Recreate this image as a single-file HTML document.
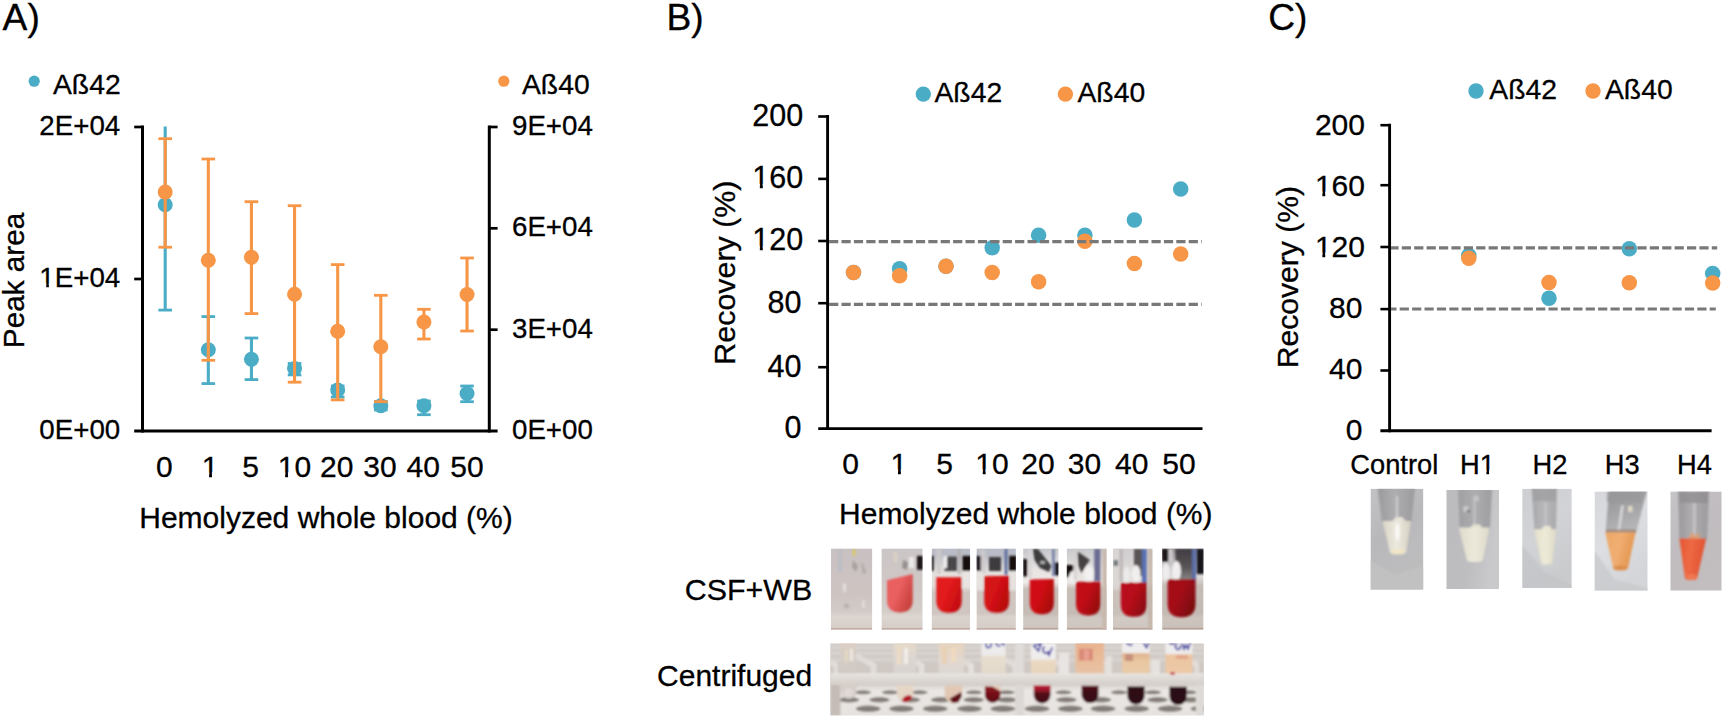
<!DOCTYPE html>
<html><head><meta charset="utf-8"><title>Figure</title>
<style>html,body{margin:0;padding:0;background:#fff;}svg{display:block}text{font-family:"Liberation Sans",sans-serif;fill:#000;stroke:#000;stroke-width:0.3px}</style>
</head><body>
<svg width="1725" height="719" viewBox="0 0 1725 719">
<rect width="1725" height="719" fill="#fff"/>
<defs><filter id="b1" x="-10%" y="-10%" width="120%" height="120%"><feGaussianBlur stdDeviation="1.05"/></filter><filter id="b2" x="-10%" y="-10%" width="120%" height="120%"><feGaussianBlur stdDeviation="1.6"/></filter><filter id="b05" x="-10%" y="-10%" width="120%" height="120%"><feGaussianBlur stdDeviation="0.5"/></filter><clipPath id="c1"><rect x="831.0" y="548.4" width="41.3" height="81.3"/></clipPath><linearGradient id="g1" x1="0" y1="0" x2="0" y2="1"><stop offset="0" stop-color="#c9c0c2"/><stop offset="0.55" stop-color="#cdc4c2"/><stop offset="0.78" stop-color="#d3cbc7"/><stop offset="0.84" stop-color="#dcd5d0"/><stop offset="0.975" stop-color="#d6cdc8"/><stop offset="0.992" stop-color="#b39a8e"/><stop offset="1" stop-color="#a5877a"/></linearGradient><clipPath id="c2"><rect x="881.4" y="548.4" width="41.3" height="81.3"/></clipPath><linearGradient id="g2" x1="0" y1="0" x2="0" y2="1"><stop offset="0" stop-color="#cbc5c6"/><stop offset="0.5" stop-color="#d0c8c5"/><stop offset="0.78" stop-color="#d5cdc8"/><stop offset="0.84" stop-color="#ddd6d1"/><stop offset="0.975" stop-color="#d6cdc8"/><stop offset="0.992" stop-color="#b39a8e"/><stop offset="1" stop-color="#a5877a"/></linearGradient><linearGradient id="g3" x1="0" y1="0" x2="1" y2="0.6"><stop offset="0" stop-color="#ea5f60"/><stop offset="0.5" stop-color="#ea5f60"/><stop offset="1" stop-color="#c8423e"/></linearGradient><clipPath id="c3"><rect x="931.6" y="548.4" width="38.5" height="81.3"/></clipPath><linearGradient id="g4" x1="0" y1="0" x2="0" y2="1"><stop offset="0" stop-color="#b9bcc6"/><stop offset="0.09" stop-color="#b9bcc6"/><stop offset="0.28" stop-color="#e6e1de"/><stop offset="0.45" stop-color="#e2dcd8"/><stop offset="0.55" stop-color="#cfc6c1"/><stop offset="0.8" stop-color="#cfc6c1"/><stop offset="0.84" stop-color="#dad2cc"/><stop offset="0.975" stop-color="#d6cdc8"/><stop offset="0.992" stop-color="#b39a8e"/><stop offset="1" stop-color="#a5877a"/></linearGradient><linearGradient id="g5" x1="0" y1="0" x2="1" y2="0.6"><stop offset="0" stop-color="#e21a1c"/><stop offset="0.5" stop-color="#e21a1c"/><stop offset="1" stop-color="#c40c10"/></linearGradient><clipPath id="c4"><rect x="976.4" y="548.4" width="39.5" height="81.3"/></clipPath><linearGradient id="g6" x1="0" y1="0" x2="0" y2="1"><stop offset="0" stop-color="#b9bcc6"/><stop offset="0.09" stop-color="#b9bcc6"/><stop offset="0.28" stop-color="#e6e1de"/><stop offset="0.45" stop-color="#e2dcd8"/><stop offset="0.55" stop-color="#cfc6c1"/><stop offset="0.8" stop-color="#cfc6c1"/><stop offset="0.84" stop-color="#dad2cc"/><stop offset="0.975" stop-color="#d6cdc8"/><stop offset="0.992" stop-color="#b39a8e"/><stop offset="1" stop-color="#a5877a"/></linearGradient><linearGradient id="g7" x1="0" y1="0" x2="1" y2="0.6"><stop offset="0" stop-color="#d41216"/><stop offset="0.5" stop-color="#d41216"/><stop offset="1" stop-color="#b8080c"/></linearGradient><clipPath id="c5"><rect x="1023.1" y="548.4" width="35.5" height="81.3"/></clipPath><linearGradient id="g8" x1="0" y1="0" x2="0" y2="1"><stop offset="0" stop-color="#c4c6cc"/><stop offset="0.25" stop-color="#e8e4e2"/><stop offset="0.42" stop-color="#eeeae8"/><stop offset="0.5" stop-color="#c8beb8"/><stop offset="0.8" stop-color="#c6bcb6"/><stop offset="0.86" stop-color="#d0c8c2"/><stop offset="0.97" stop-color="#cfc6c0"/><stop offset="1" stop-color="#a08878"/></linearGradient><linearGradient id="g9" x1="0" y1="0" x2="1" y2="0.6"><stop offset="0" stop-color="#d00a12"/><stop offset="0.5" stop-color="#d00a12"/><stop offset="1" stop-color="#a80810"/></linearGradient><clipPath id="c6"><rect x="1066.7" y="548.4" width="40.0" height="81.3"/></clipPath><linearGradient id="g10" x1="0" y1="0" x2="0" y2="1"><stop offset="0" stop-color="#c6c8cc"/><stop offset="0.25" stop-color="#e4e0de"/><stop offset="0.42" stop-color="#eae6e4"/><stop offset="0.5" stop-color="#c8beb8"/><stop offset="0.8" stop-color="#c6bcb6"/><stop offset="0.86" stop-color="#d0c8c2"/><stop offset="0.97" stop-color="#cfc6c0"/><stop offset="1" stop-color="#a08878"/></linearGradient><linearGradient id="g11" x1="0" y1="0" x2="1" y2="0.6"><stop offset="0" stop-color="#c00a14"/><stop offset="0.5" stop-color="#c00a14"/><stop offset="1" stop-color="#96080f"/></linearGradient><clipPath id="c7"><rect x="1112.9" y="548.4" width="39.7" height="81.3"/></clipPath><linearGradient id="g12" x1="0" y1="0" x2="0" y2="1"><stop offset="0" stop-color="#cfcdd0"/><stop offset="0.25" stop-color="#dcd8d6"/><stop offset="0.42" stop-color="#e2dedc"/><stop offset="0.5" stop-color="#cbc2bc"/><stop offset="0.8" stop-color="#c9c0ba"/><stop offset="0.86" stop-color="#d2cac4"/><stop offset="0.97" stop-color="#cfc6c0"/><stop offset="1" stop-color="#a08878"/></linearGradient><linearGradient id="g13" x1="0" y1="0" x2="1" y2="0.6"><stop offset="0" stop-color="#b80e1a"/><stop offset="0.5" stop-color="#b80e1a"/><stop offset="1" stop-color="#8e0a14"/></linearGradient><clipPath id="c8"><rect x="1162.1" y="548.4" width="41.5" height="81.3"/></clipPath><linearGradient id="g14" x1="0" y1="0" x2="0" y2="1"><stop offset="0" stop-color="#8a868a"/><stop offset="0.2" stop-color="#c8c4c6"/><stop offset="0.36" stop-color="#dedad8"/><stop offset="0.46" stop-color="#c6bcb6"/><stop offset="0.8" stop-color="#c4bab4"/><stop offset="0.86" stop-color="#cdc4be"/><stop offset="0.97" stop-color="#cac0ba"/><stop offset="1" stop-color="#a08878"/></linearGradient><linearGradient id="g15" x1="0" y1="0" x2="0" y2="1"><stop offset="0" stop-color="#403c40"/><stop offset="0.6" stop-color="#5a5558"/><stop offset="1" stop-color="#8a8486"/></linearGradient><linearGradient id="g16" x1="0" y1="0" x2="1" y2="0.6"><stop offset="0" stop-color="#a40c16"/><stop offset="0.5" stop-color="#a40c16"/><stop offset="1" stop-color="#7c0810"/></linearGradient><clipPath id="c9"><rect x="830.2" y="643.3" width="373.7" height="72.2"/></clipPath><linearGradient id="g17" x1="0" y1="0" x2="0" y2="1"><stop offset="0" stop-color="#d3cdc9"/><stop offset="0.4" stop-color="#cec7c2"/><stop offset="0.42" stop-color="#d6d0cb"/><stop offset="0.58" stop-color="#d2cbc6"/><stop offset="0.6" stop-color="#e4e1de"/><stop offset="1" stop-color="#e2dfdc"/></linearGradient><linearGradient id="g18" x1="0" y1="0" x2="0" y2="1"><stop offset="0" stop-color="#dccfc0"/><stop offset="0.35" stop-color="#d6cec8"/><stop offset="1" stop-color="#cfc8c4"/></linearGradient><linearGradient id="g19" x1="0" y1="0" x2="0" y2="1"><stop offset="0" stop-color="#e6d9c8"/><stop offset="0.5" stop-color="#dcd6d2"/><stop offset="1" stop-color="#d8d3d0"/></linearGradient><linearGradient id="g20" x1="0" y1="0" x2="0" y2="1"><stop offset="0" stop-color="#e6d3bc"/><stop offset="0.55" stop-color="#e2d8d0"/><stop offset="1" stop-color="#dcd7d3"/></linearGradient><linearGradient id="g21" x1="0" y1="0" x2="0" y2="1"><stop offset="0" stop-color="#efeded"/><stop offset="0.38" stop-color="#eceaea"/><stop offset="0.45" stop-color="#e8decf"/><stop offset="1" stop-color="#e2d8ca"/></linearGradient><linearGradient id="g22" x1="0" y1="0" x2="0" y2="1"><stop offset="0" stop-color="#f1efef"/><stop offset="0.5" stop-color="#efeded"/><stop offset="0.58" stop-color="#ead9c2"/><stop offset="1" stop-color="#e6d4bc"/></linearGradient><linearGradient id="g23" x1="0" y1="0" x2="0" y2="1"><stop offset="0" stop-color="#e9b48e"/><stop offset="0.6" stop-color="#e9bd9c"/><stop offset="1" stop-color="#e6c2a6"/></linearGradient><linearGradient id="g24" x1="0" y1="0" x2="0" y2="1"><stop offset="0" stop-color="#efeded"/><stop offset="0.3" stop-color="#efeded"/><stop offset="0.36" stop-color="#e0b48e"/><stop offset="0.6" stop-color="#e9c8a2"/><stop offset="1" stop-color="#e8cba8"/></linearGradient><linearGradient id="g25" x1="0" y1="0" x2="0" y2="1"><stop offset="0" stop-color="#f0eeee"/><stop offset="0.33" stop-color="#efeded"/><stop offset="0.4" stop-color="#ecc4a0"/><stop offset="1" stop-color="#eccaa8"/></linearGradient><linearGradient id="g26" x1="0" y1="0" x2="0" y2="1"><stop offset="0" stop-color="#e9e6e3"/><stop offset="0.35" stop-color="#e0dbd7"/><stop offset="1" stop-color="#d4cdc8"/></linearGradient><linearGradient id="g27" x1="0" y1="0" x2="0" y2="1"><stop offset="0" stop-color="#d9d4d0"/><stop offset="0.15" stop-color="#e9e6e3"/><stop offset="1" stop-color="#e6e3e0"/></linearGradient><linearGradient id="g28" x1="0" y1="0" x2="0" y2="1"><stop offset="0" stop-color="#8e1622"/><stop offset="0.5" stop-color="#741018"/><stop offset="1" stop-color="#5a0c14"/></linearGradient><linearGradient id="g29" x1="0" y1="0" x2="0" y2="1"><stop offset="0" stop-color="#b81a34"/><stop offset="0.25" stop-color="#a0182c"/><stop offset="0.45" stop-color="#521018"/><stop offset="1" stop-color="#43101a"/></linearGradient><linearGradient id="g30" x1="0" y1="0" x2="0" y2="1"><stop offset="0" stop-color="#5a1420"/><stop offset="0.3" stop-color="#3e0c14"/><stop offset="1" stop-color="#380c14"/></linearGradient><linearGradient id="g31" x1="0" y1="0" x2="0.4" y2="1"><stop offset="0" stop-color="#c2c2c5"/><stop offset="0.5" stop-color="#b8b7ba"/><stop offset="1" stop-color="#bebdbe"/></linearGradient><linearGradient id="g32" x1="0" y1="0" x2="1" y2="0"><stop offset="0" stop-color="#9a999c"/><stop offset="0.45" stop-color="#aeadb0"/><stop offset="1" stop-color="#9c9b9e"/></linearGradient><linearGradient id="g33" x1="0" y1="0" x2="1" y2="0"><stop offset="0" stop-color="#d9d4c6"/><stop offset="0.5" stop-color="#ece9df"/><stop offset="1" stop-color="#d7d1c2"/></linearGradient><clipPath id="c10"><rect x="1370.5" y="488.7" width="52.9" height="101.1"/></clipPath><linearGradient id="g34" x1="0" y1="0" x2="1" y2="0.3"><stop offset="0" stop-color="#bcbcbf"/><stop offset="0.6" stop-color="#bebec1"/><stop offset="1" stop-color="#c9c9cc"/></linearGradient><linearGradient id="g35" x1="0" y1="0" x2="1" y2="0"><stop offset="0" stop-color="#a0a0a3"/><stop offset="0.5" stop-color="#adadb0"/><stop offset="1" stop-color="#9e9ea1"/></linearGradient><linearGradient id="g36" x1="0" y1="0" x2="1" y2="0"><stop offset="0" stop-color="#dedacb"/><stop offset="0.5" stop-color="#ece9db"/><stop offset="1" stop-color="#dedacb"/></linearGradient><clipPath id="c11"><rect x="1446.3" y="490" width="52.7" height="99.0"/></clipPath><linearGradient id="g37" x1="0" y1="0" x2="0.5" y2="1"><stop offset="0" stop-color="#cdced1"/><stop offset="0.5" stop-color="#d2d3d6"/><stop offset="1" stop-color="#cacbcd"/></linearGradient><linearGradient id="g38" x1="0" y1="0" x2="1" y2="0"><stop offset="0" stop-color="#a8a8ab"/><stop offset="0.5" stop-color="#b8b8bb"/><stop offset="1" stop-color="#aaaaad"/></linearGradient><linearGradient id="g39" x1="0" y1="0" x2="1" y2="0"><stop offset="0" stop-color="#e3dfcb"/><stop offset="0.5" stop-color="#edead8"/><stop offset="1" stop-color="#dfdbc6"/></linearGradient><clipPath id="c12"><rect x="1522.2" y="488.7" width="49.6" height="99.3"/></clipPath><linearGradient id="g40" x1="0" y1="0" x2="0.5" y2="1"><stop offset="0" stop-color="#d6d7da"/><stop offset="0.5" stop-color="#dddee1"/><stop offset="1" stop-color="#d4d5d8"/></linearGradient><linearGradient id="g41" x1="0" y1="0" x2="0.3" y2="1"><stop offset="0" stop-color="#929295"/><stop offset="0.6" stop-color="#a6a6a9"/><stop offset="1" stop-color="#b6b6b9"/></linearGradient><linearGradient id="g42" x1="0" y1="0" x2="1" y2="0.3"><stop offset="0" stop-color="#eca765"/><stop offset="0.5" stop-color="#f1ae72"/><stop offset="1" stop-color="#e39650"/></linearGradient><clipPath id="c13"><rect x="1594.5" y="491.4" width="53.2" height="99.3"/></clipPath><linearGradient id="g43" x1="0" y1="0" x2="0.5" y2="1"><stop offset="0" stop-color="#c6c4c7"/><stop offset="0.5" stop-color="#c0bcbf"/><stop offset="1" stop-color="#c2bebf"/></linearGradient><linearGradient id="g44" x1="0" y1="0" x2="1" y2="0"><stop offset="0" stop-color="#9a989a"/><stop offset="0.45" stop-color="#b0aeb0"/><stop offset="1" stop-color="#9c9a9c"/></linearGradient><linearGradient id="g45" x1="0" y1="0" x2="1" y2="0.2"><stop offset="0" stop-color="#e4532f"/><stop offset="0.45" stop-color="#ee6a45"/><stop offset="1" stop-color="#e05030"/></linearGradient><clipPath id="c14"><rect x="1670.3" y="491.4" width="51.4" height="99.3"/></clipPath></defs>
<g clip-path="url(#c1)">
<rect x="831.0" y="548.4" width="41.3" height="81.3" fill="url(#g1)" />
<g filter="url(#b1)">
<rect x="838.0" y="549.0" width="4.0" height="23.0" fill="#b4bcc8" opacity="0.6"/>
<rect x="852.5" y="549.0" width="3.0" height="7.0" fill="#d8c860" opacity="0.9"/>
<path d="M853,560 L858,566 L856,572 L852,567 Z" fill="#9a9290" opacity="0.7"/>
<path d="M861,560 L866,572 L863,574 Z" fill="#a09894" opacity="0.7"/>
<rect x="843.0" y="583.0" width="3.0" height="9.0" fill="#e8e4e2" opacity="0.8"/>
<ellipse cx="846.5" cy="606" rx="3" ry="2.5" fill="#b0a8a6" opacity="0.7"/>
<rect x="862.0" y="600.0" width="3.0" height="8.0" fill="#e2deda" opacity="0.8"/>
</g></g>
<g clip-path="url(#c2)">
<rect x="881.4" y="548.4" width="41.3" height="81.3" fill="url(#g2)" />
<g filter="url(#b1)">
<rect x="917.0" y="555.9" width="6.0" height="13.9" fill="#1a1416" />
<rect x="909.0" y="557.0" width="5.0" height="11.0" fill="#eceae8" />
<path d="M903,560 L908,562 L907,570 L902,568 Z" fill="#8a8482" opacity="0.8"/>
<rect x="894.0" y="552.0" width="3.0" height="10.0" fill="#e0d6c0" opacity="0.8"/>
<path d="M887.0,580.3 L912.7,574.0 L912.7,600.1 Q912.7,612.4 900.4,612.4 L899.3,612.4 Q887.0,612.4 887.0,600.1 Z" fill="url(#g3)"/>
</g></g>
<g clip-path="url(#c3)">
<rect x="931.6" y="548.4" width="38.5" height="81.3" fill="url(#g4)" />
<g filter="url(#b1)">
<rect x="931.6" y="555.9" width="2.2" height="15.1" fill="#141012" />
<rect x="962.3" y="555.9" width="8.8" height="15.1" fill="#120e10" />
<rect x="944.5" y="556.5" width="12.5" height="14.5" fill="#4a4648" />
<rect x="943.5" y="556.0" width="3.5" height="12.0" fill="#f0eeee" />
<rect x="936.5" y="549.0" width="4.5" height="25.0" fill="#cfcacb" opacity="0.8"/>
<rect x="957.5" y="549.0" width="3.5" height="25.0" fill="#b4aeb0" opacity="0.8"/>
<rect x="962.5" y="571.5" width="8.5" height="16.5" fill="#e8e4e2" />
<path d="M936.3,577.2 L961.7,577.2 L961.7,600.5 Q961.7,612.7 949.5,612.7 L948.5,612.7 Q936.3,612.7 936.3,600.5 Z" fill="url(#g5)"/>
</g></g>
<g clip-path="url(#c4)">
<rect x="976.4" y="548.4" width="39.5" height="81.3" fill="url(#g6)" />
<g filter="url(#b1)">
<rect x="976.4" y="555.9" width="4.8" height="15.1" fill="#141012" />
<rect x="1009.1" y="555.9" width="7.8" height="15.1" fill="#120e10" />
<rect x="989.0" y="557.0" width="12.0" height="14.0" fill="#3c3a3c" />
<rect x="980.5" y="549.0" width="5.0" height="25.0" fill="#cfcacb" opacity="0.85"/>
<rect x="1004.6" y="549.0" width="2.8" height="26.0" fill="#5a6a9c" />
<rect x="1010.0" y="571.5" width="6.5" height="18.5" fill="#e6e2e0" />
<rect x="976.0" y="571.5" width="7.0" height="18.5" fill="#e6e2e0" />
<path d="M984.2,576.2 L1009.2,575.8 L1009.2,600.7 Q1009.2,612.7 997.2,612.7 L996.2,612.7 Q984.2,612.7 984.2,600.7 Z" fill="url(#g7)"/>
</g></g>
<g clip-path="url(#c5)">
<rect x="1023.1" y="548.4" width="35.5" height="81.3" fill="url(#g8)" />
<g filter="url(#b1)">
<rect x="1023.0" y="559.0" width="4.2" height="17.5" fill="#140f10" />
<rect x="1054.8" y="562.5" width="4.2" height="13.0" fill="#161012" />
<path d="M1032.8,549 L1038,549 L1051.5,566 L1049,572 L1040,568 L1034.5,560 Z" fill="#3e3c3e"/>
<ellipse cx="1042.6" cy="562.4" rx="2.6" ry="1.6" fill="#b8b4b4"/>
<rect x="1052.2" y="549.0" width="2.4" height="27.0" fill="#6a78a0" />
<rect x="1028.5" y="549.0" width="3.5" height="29.0" fill="#d8d4d4" opacity="0.8"/>
<path d="M1029.8,579.4 L1053.9,579.0 L1053.9,602.6 Q1053.9,614.2 1042.3,614.2 L1041.4,614.2 Q1029.8,614.2 1029.8,602.6 Z" fill="url(#g9)"/>
</g></g>
<g clip-path="url(#c6)">
<rect x="1066.7" y="548.4" width="40.0" height="81.3" fill="url(#g10)" />
<g filter="url(#b1)">
<path d="M1066,565 L1073.5,565 L1073.5,570 L1068,577.5 L1066,577.5 Z" fill="#140f10"/>
<path d="M1077.5,551.5 L1090,560 L1087,564 L1081.5,573 L1078.5,566 Z" fill="#444042"/>
<rect x="1094.2" y="549.0" width="6.2" height="32.0" fill="#6c6c92" />
<rect x="1102.5" y="549.0" width="4.5" height="81.0" fill="#c9b8ac" />
<ellipse cx="1089" cy="574" rx="5" ry="8" fill="#f2f0f0"/>
<ellipse cx="1073" cy="577" rx="4" ry="6" fill="#f0eeee"/>
<rect x="1073.5" y="549.0" width="3.5" height="31.0" fill="#d4d0d0" opacity="0.8"/>
<path d="M1076.0,581.8 L1100.5,581.4 L1100.5,603.6 Q1100.5,615.4 1088.7,615.4 L1087.8,615.4 Q1076.0,615.4 1076.0,603.6 Z" fill="url(#g11)"/>
</g></g>
<g clip-path="url(#c7)">
<rect x="1112.9" y="548.4" width="39.7" height="81.3" fill="url(#g12)" />
<g filter="url(#b1)">
<rect x="1134.0" y="549.0" width="8.0" height="27.0" fill="#5c5457" />
<rect x="1142.0" y="549.0" width="4.8" height="36.0" fill="#5a72b2" />
<ellipse cx="1136" cy="574" rx="4.5" ry="9" fill="#f0eeee"/>
<ellipse cx="1126.5" cy="575" rx="3.5" ry="8" fill="#eceaea"/>
<rect x="1113.0" y="549.0" width="6.0" height="41.0" fill="#dad6d4" opacity="0.9"/>
<rect x="1113.5" y="560.0" width="4.5" height="6.0" fill="#5a6068" opacity="0.8"/>
<rect x="1119.5" y="549.0" width="3.5" height="33.0" fill="#b9b2b2" opacity="0.8"/>
<rect x="1148.0" y="549.0" width="5.0" height="81.0" fill="#c4b4a8" opacity="0.8"/>
<path d="M1120.8,583.0 L1146.7,582.6 L1146.7,604.3 Q1146.7,616.7 1134.3,616.7 L1133.2,616.7 Q1120.8,616.7 1120.8,604.3 Z" fill="url(#g13)"/>
</g></g>
<g clip-path="url(#c8)">
<rect x="1162.1" y="548.4" width="41.5" height="81.3" fill="url(#g14)" />
<g filter="url(#b1)">
<rect x="1162.0" y="549.0" width="6.6" height="12.5" fill="#1a1618" />
<rect x="1175.5" y="549.0" width="16.9" height="31.0" fill="url(#g15)" />
<rect x="1192.0" y="549.0" width="4.0" height="32.0" fill="#5c6ea6" />
<rect x="1196.7" y="549.0" width="7.3" height="25.0" fill="#18161a" />
<ellipse cx="1166" cy="572" rx="4" ry="9" fill="#eeecec"/>
<ellipse cx="1176.5" cy="571" rx="4.5" ry="10" fill="#f0eeee"/>
<rect x="1168.5" y="549.0" width="4.0" height="13.0" fill="#d0ccd0" />
<path d="M1167.6,579.6 L1195.5,579.0 L1195.5,603.8 Q1195.5,617.2 1182.1,617.2 L1181.0,617.2 Q1167.6,617.2 1167.6,603.8 Z" fill="url(#g16)"/>
</g></g>
<g clip-path="url(#c9)">
<rect x="830.2" y="643.3" width="373.7" height="72.2" fill="url(#g17)" />
<g filter="url(#b1)">
<path d="M838,675 L838,663 L813,650 L813,655 L833.5,667 L833.5,675 Z" fill="#e2ddd9"/>
<path d="M875,675 L875,663 L850,650 L850,655 L870.5,667 L870.5,675 Z" fill="#e2ddd9"/>
<path d="M923,675 L923,663 L898,650 L898,655 L918.5,667 L918.5,675 Z" fill="#e2ddd9"/>
<path d="M972.5,675 L972.5,663 L947.5,650 L947.5,655 L968.0,667 L968.0,675 Z" fill="#e2ddd9"/>
<path d="M1017,675 L1017,663 L992,650 L992,655 L1012.5,667 L1012.5,675 Z" fill="#e2ddd9"/>
<path d="M1063,675 L1063,663 L1038,650 L1038,655 L1058.5,667 L1058.5,675 Z" fill="#e2ddd9"/>
<path d="M1109,675 L1109,663 L1084,650 L1084,655 L1104.5,667 L1104.5,675 Z" fill="#e2ddd9"/>
<path d="M1155,675 L1155,663 L1130,650 L1130,655 L1150.5,667 L1150.5,675 Z" fill="#e2ddd9"/>
<path d="M1199,675 L1199,663 L1174,650 L1174,655 L1194.5,667 L1194.5,675 Z" fill="#e2ddd9"/>
<rect x="830.2" y="646.5" width="373.7" height="2.2" fill="#ddd8d4" opacity="0.8"/>
<rect x="830.2" y="652.0" width="373.7" height="2.4" fill="#ddd8d4" opacity="0.75"/>
<rect x="830.2" y="658.5" width="373.7" height="2.6" fill="#ddd8d4" opacity="0.7"/>
<rect x="840.6" y="643.0" width="15.8" height="31.0" fill="url(#g18)" />
<rect x="845.0" y="650.0" width="2.5" height="12.0" fill="#e8dcc0" />
<rect x="850.0" y="649.0" width="3.0" height="12.0" fill="#f0e8e0" />
<rect x="893.6" y="643.0" width="22.4" height="31.0" fill="url(#g19)" />
<rect x="897.0" y="646.0" width="4.0" height="19.0" fill="#ecdcc4" />
<rect x="904.0" y="648.0" width="4.0" height="16.0" fill="#f2ece6" />
<rect x="938.6" y="643.0" width="25.4" height="31.0" fill="url(#g20)" />
<rect x="942.0" y="647.0" width="5.0" height="17.0" fill="#e8d0b4" />
<rect x="951.0" y="647.0" width="5.0" height="15.0" fill="#efd9c0" />
<rect x="981.4" y="643.0" width="24.2" height="31.0" fill="url(#g21)" />
<rect x="1030.9" y="643.0" width="24.8" height="31.0" fill="url(#g22)" />
<rect x="1075.4" y="643.0" width="28.6" height="31.0" fill="url(#g23)" />
<rect x="1078.8" y="648.7" width="14.0" height="11.8" fill="#d98a78" />
<rect x="1084.0" y="650.0" width="5.0" height="11.0" fill="#e8a090" />
<rect x="1122.0" y="643.0" width="27.7" height="31.0" fill="url(#g24)" />
<rect x="1125.0" y="654.0" width="8.0" height="7.0" fill="#c8907a" />
<rect x="1165.4" y="643.0" width="27.1" height="31.0" fill="url(#g25)" />
<rect x="1176.0" y="655.0" width="12.0" height="4.0" fill="#e0a088" opacity="0.8"/>
<path d="M986,644 q0,4 3,3.5 q3,-0.5 2,-4 M996,643.5 q1,3 4,2 M1002,643.5 l2,1.5" fill="none" stroke="#2c2c9c" stroke-width="1.6" stroke-linecap="round"/>
<path d="M1033.5,645.5 l5,5.5 l2.5,-7 l-7,1.5 M1044,647 q-2.5,4 1,6 q2,1 3,-1 l1,3 l3,-7" fill="none" stroke="#2c2c9c" stroke-width="1.6" stroke-linecap="round"/>
<path d="M1127,643.5 q2,2 5,1 M1144,643.5 l2.5,4 l2,-4" fill="none" stroke="#2c2c9c" stroke-width="1.6" stroke-linecap="round"/>
<path d="M1170,643.5 q2.5,1 4,0 M1176.5,644 q-2.5,4 1,5.5 q3,0.5 3,-4 M1182.5,644 l1.5,5 l2,-4 l2,4 l2,-6" fill="none" stroke="#2c2c9c" stroke-width="1.6" stroke-linecap="round"/>
<rect x="1015.0" y="643.0" width="9.0" height="73.0" fill="#e0dcd9" />
<rect x="1059.0" y="652.6" width="10.0" height="22.4" fill="#e8e4e2" />
<rect x="920.0" y="664.0" width="4.5" height="11.0" fill="#e4e0dc" />
<rect x="969.5" y="664.0" width="4.3" height="11.0" fill="#e6e2de" />
<rect x="872.0" y="664.0" width="4.5" height="11.0" fill="#e2ddd9" />
<rect x="1152.0" y="660.0" width="8.0" height="15.0" fill="#e6e2df" />
<rect x="1106.0" y="656.0" width="6.0" height="19.0" fill="#e4e0dc" />
<rect x="830.2" y="673.4" width="373.7" height="12.2" fill="url(#g26)" />
<rect x="830.2" y="685.6" width="373.7" height="30.4" fill="url(#g27)" />
<ellipse cx="868.2" cy="708.8" rx="12.3" ry="3.2" fill="#857e78"/>
<ellipse cx="901.5" cy="708.8" rx="12.3" ry="3.2" fill="#857e78"/>
<ellipse cx="935.2" cy="708.8" rx="12.3" ry="3.2" fill="#857e78"/>
<ellipse cx="969.5" cy="708.8" rx="12.3" ry="3.2" fill="#857e78"/>
<ellipse cx="1002.8" cy="708.8" rx="12.3" ry="3.2" fill="#857e78"/>
<ellipse cx="1037.1" cy="708.8" rx="12.3" ry="3.2" fill="#857e78"/>
<ellipse cx="1070.3" cy="708.8" rx="12.3" ry="3.2" fill="#857e78"/>
<ellipse cx="1103" cy="708.8" rx="12.3" ry="3.2" fill="#857e78"/>
<ellipse cx="1136.7" cy="708.8" rx="12.3" ry="3.2" fill="#857e78"/>
<ellipse cx="1170" cy="708.8" rx="12.3" ry="3.2" fill="#857e78"/>
<ellipse cx="1203" cy="708.8" rx="12.3" ry="3.2" fill="#857e78"/>
<ellipse cx="849" cy="699.8" rx="10.2" ry="2.7" fill="#857e78"/>
<ellipse cx="879.5" cy="699.8" rx="10.2" ry="2.7" fill="#857e78"/>
<ellipse cx="910" cy="699.8" rx="10.2" ry="2.7" fill="#857e78"/>
<ellipse cx="941" cy="699.8" rx="10.2" ry="2.7" fill="#857e78"/>
<ellipse cx="973.7" cy="699.8" rx="10.2" ry="2.7" fill="#857e78"/>
<ellipse cx="1007" cy="699.8" rx="10.2" ry="2.7" fill="#857e78"/>
<ellipse cx="1066.4" cy="699.8" rx="10.2" ry="2.7" fill="#857e78"/>
<ellipse cx="1101" cy="699.8" rx="10.2" ry="2.7" fill="#857e78"/>
<ellipse cx="1157.5" cy="699.8" rx="10.2" ry="2.7" fill="#857e78"/>
<ellipse cx="1191" cy="699.8" rx="10.2" ry="2.7" fill="#857e78"/>
<ellipse cx="863" cy="692.3" rx="8.2" ry="2.0" fill="#857e78"/>
<ellipse cx="890" cy="692.3" rx="8.2" ry="2.0" fill="#857e78"/>
<ellipse cx="919.5" cy="692.3" rx="8.2" ry="2.0" fill="#857e78"/>
<ellipse cx="974" cy="692.3" rx="8.2" ry="2.0" fill="#857e78"/>
<ellipse cx="1006.7" cy="692.3" rx="8.2" ry="2.0" fill="#857e78"/>
<ellipse cx="1063.5" cy="692.3" rx="8.2" ry="2.0" fill="#857e78"/>
<ellipse cx="1119" cy="692.3" rx="8.2" ry="2.0" fill="#857e78"/>
<ellipse cx="1153" cy="692.3" rx="8.2" ry="2.0" fill="#857e78"/>
<ellipse cx="1189" cy="692.3" rx="8.2" ry="2.0" fill="#857e78"/>
<path d="M830.2,685 L840.5,685 L840.5,716 L830.2,716 Z" fill="#c6bcb7"/>
<path d="M1195.8,685 L1204,685 L1204,716 L1195.8,716 Z" fill="#dedad7"/>
<rect x="1015.0" y="685.0" width="9.0" height="31.0" fill="#dcd8d5" />
<path d="M841,685.5 L856.5,685.5 L856.5,692.0 A7.8,7.8 0 0 1 841,692.0 Z" fill="#d2cac5" opacity="0.85"/>
<ellipse cx="848.5" cy="693" rx="4.5" ry="5" fill="#e2dcd8" opacity="0.8"/>
<path d="M897,685.5 L913.3,685.5 L913.3,694.1 A8.1,8.1 0 0 1 897,694.1 Z" fill="#e6d6c6" />
<ellipse cx="907.1" cy="698.8" rx="5.2" ry="3" transform="rotate(-25 907.1 698.8)" fill="#b01828"/>
<path d="M944.8,685.5 L962.2,685.5 L962.2,694.7 A8.7,8.7 0 0 1 944.8,694.7 Z" fill="#e2c8b4" />
<path d="M949.3,698.8 L961.1,692 L961.7,696.6 L958.3,702.2 L952.7,703.1 Z" fill="#5e1019"/>
<path d="M984.8,686.5 L1000.5,686.5 L1000.5,695.8 A7.9,7.9 0 0 1 984.8,695.8 Z" fill="url(#g28)" />
<path d="M991.5,686 L1001,686 L1001,691.5 Z" fill="#e4ccb8"/>
<path d="M1033.7,685.5 L1050.6,685.5 L1050.6,695.0 A8.4,8.4 0 0 1 1033.7,695.0 Z" fill="url(#g29)" />
<path d="M1081.6,685.8 L1098.5,685.8 L1098.5,695.5 A8.5,8.5 0 0 1 1081.6,695.5 Z" fill="url(#g30)" />
<path d="M1127.4,686.4 L1144.6,686.4 L1144.6,695.9 A8.6,8.6 0 0 1 1127.4,695.9 Z" fill="#2e1014" />
<path d="M1169.4,686.8 L1186.8,686.8 L1186.8,696.3 A8.7,8.7 0 0 1 1169.4,696.3 Z" fill="#2c1014" />
<ellipse cx="1172.6" cy="673.4" rx="2.6" ry="1.2" fill="#c01828"/>
</g></g>
<g clip-path="url(#c10)">
<rect x="1370.5" y="488.7" width="52.9" height="101.1" fill="url(#g31)" />
<g filter="url(#b1)">
<path d="M1370,560 L1395,575 L1424,566 L1424,590 L1370,590 Z" fill="#c4c3c4" opacity="0.7"/>
<path d="M1377.5,487.7 L1415,487.7 L1411.5,522 L1382,522 Z" fill="url(#g32)"/>
<rect x="1396.0" y="496.0" width="2.0" height="27.0" fill="#d4d4d6" opacity="0.8"/>
<path d="M1392,521.5 L1396,517 L1402,517 L1406,521.5 Z" fill="#e6e2d8"/>
<path d="M1382.5,521 L1410.9,521 L1406.7,549.2 Q1406.7,554.5 1401.5,554.5 L1394.5,554.5 Q1389.2,554.5 1389.2,549.2 Z" fill="url(#g33)"/>
<ellipse cx="1397.5" cy="532" rx="2.5" ry="9" fill="#fbfaf6" opacity="0.9"/>
<ellipse cx="1398" cy="551.5" rx="7" ry="2.6" fill="#f3e6c0" opacity="0.9"/>
</g></g>
<g clip-path="url(#c11)">
<rect x="1446.3" y="490.0" width="52.7" height="99.0" fill="url(#g34)" />
<g filter="url(#b1)">
<path d="M1458,489 L1492,489 L1490,528.6 L1459.5,528.6 Z" fill="url(#g35)"/>
<circle cx="1466" cy="509" r="3" fill="#c8c8cb"/>
<circle cx="1476" cy="498.5" r="3" fill="#c4c4c7"/>
<circle cx="1468.5" cy="511" r="1.3" fill="#505054"/>
<rect x="1473.0" y="500.0" width="3.0" height="26.0" fill="#c0c0c3" opacity="0.8"/>
<path d="M1470,528 L1473,524.5 L1480,524.5 L1482,528 Z" fill="#e6e2d2"/>
<path d="M1458.8,527.6 L1489.3,527.6 L1483.5,556.8 Q1483.5,562 1478.2,562 L1471.2,562 Q1466,562 1466,556.8 Z" fill="url(#g36)"/>
</g></g>
<g clip-path="url(#c12)">
<rect x="1522.2" y="488.7" width="49.6" height="99.3" fill="url(#g37)" />
<g filter="url(#b1)">
<path d="M1522,545 L1545,572 L1572,585 L1572,589 L1522,589 Z" fill="#c2c3c6" opacity="0.7"/>
<path d="M1531.5,487.7 L1557,487.7 L1556,530.2 L1534.5,530.2 Z" fill="url(#g38)"/>
<rect x="1533.0" y="489.0" width="23.0" height="12.0" fill="#9c9c9f" opacity="0.7"/>
<rect x="1545.0" y="503.0" width="2.0" height="23.0" fill="#c8c8cb" opacity="0.8"/>
<path d="M1541,530 L1544,526 L1550,526 L1552,530 Z" fill="#ebe6d2"/>
<path d="M1534.2,529.2 L1555.9,529.2 L1552.6,561.0 Q1552.6,564.5 1549.1,564.5 L1544.4,564.5 Q1540.9,564.5 1540.9,561.0 Z" fill="url(#g39)"/>
</g></g>
<g clip-path="url(#c13)">
<rect x="1594.5" y="491.4" width="53.2" height="99.3" fill="url(#g40)" />
<g filter="url(#b1)">
<path d="M1594,550 L1615,580 L1648,588 L1648,591 L1594,591 Z" fill="#c6c7ca" opacity="0.7"/>
<path d="M1609,490.4 L1647,490.4 L1636,533.2 L1605.5,533.2 Z" fill="url(#g41)"/>
<rect x="1607.0" y="492.0" width="34.0" height="10.0" fill="#98989b" opacity="0.8"/>
<path d="M1621,506 L1624,505 L1620,531 L1617.5,531 Z" fill="#d6d6d8"/>
<rect x="1628.0" y="506.0" width="4.5" height="6.0" fill="#e4dcc8" opacity="0.9"/>
<rect x="1606.0" y="529.5" width="30.0" height="3.5" fill="#8a6a50" opacity="0.55"/>
<path d="M1605.2,532.2 L1635.5,532.2 L1628.5,565.6 Q1628.5,570.3 1623.8,570.3 L1617.4,570.3 Q1612.7,570.3 1612.7,565.6 Z" fill="url(#g42)"/>
<ellipse cx="1620" cy="568" rx="7" ry="2.5" fill="#d98a48" opacity="0.8"/>
</g></g>
<g clip-path="url(#c14)">
<rect x="1670.3" y="491.4" width="51.4" height="99.3" fill="url(#g43)" />
<g filter="url(#b1)">
<path d="M1678,490.4 L1709,490.4 L1707,539.4 L1679.5,539.4 Z" fill="url(#g44)"/>
<rect x="1680.0" y="492.0" width="28.0" height="11.0" fill="#8e8c8e" opacity="0.7"/>
<rect x="1693.5" y="503.0" width="2.0" height="35.0" fill="#d0cecf" opacity="0.9"/>
<path d="M1689,537 L1692,532 L1696,536 L1699,532 L1700,540 L1689,540 Z" fill="#d8a078"/>
<path d="M1679.4,538.4 L1706.2,538.4 L1697.6,576.1 Q1697.6,580 1693.7,580 L1688.5,580 Q1684.6,580 1684.6,576.1 Z" fill="url(#g45)"/>
<ellipse cx="1692" cy="577" rx="5.5" ry="3" fill="#f08058" opacity="0.8"/>
</g></g>
<text x="2.6" y="30" font-size="37.2" text-anchor="start" >A)</text>
<circle cx="34.2" cy="81.2" r="5.6" fill="#4bacc6"/>
<text x="53" y="94.3" font-size="28.3" text-anchor="start" >Aß42</text>
<circle cx="503.8" cy="81.2" r="5.6" fill="#f79646"/>
<text x="522" y="94.3" font-size="28.3" text-anchor="start" >Aß40</text>
<line x1="165.2" y1="126.5" x2="165.2" y2="310.1" stroke="#4bacc6" stroke-width="3.1" />
<line x1="158.39999999999998" y1="310.1" x2="172.0" y2="310.1" stroke="#4bacc6" stroke-width="2.8" />
<line x1="208.32" y1="316.6" x2="208.32" y2="383.6" stroke="#4bacc6" stroke-width="3.1" />
<line x1="201.51999999999998" y1="316.6" x2="215.12" y2="316.6" stroke="#4bacc6" stroke-width="2.8" />
<line x1="201.51999999999998" y1="383.6" x2="215.12" y2="383.6" stroke="#4bacc6" stroke-width="2.8" />
<line x1="251.44" y1="338" x2="251.44" y2="379.6" stroke="#4bacc6" stroke-width="3.1" />
<line x1="244.64" y1="338" x2="258.24" y2="338" stroke="#4bacc6" stroke-width="2.8" />
<line x1="244.64" y1="379.6" x2="258.24" y2="379.6" stroke="#4bacc6" stroke-width="2.8" />
<line x1="294.55999999999995" y1="363.5" x2="294.55999999999995" y2="374.9" stroke="#4bacc6" stroke-width="3.1" />
<line x1="287.75999999999993" y1="363.5" x2="301.35999999999996" y2="363.5" stroke="#4bacc6" stroke-width="2.8" />
<line x1="287.75999999999993" y1="374.9" x2="301.35999999999996" y2="374.9" stroke="#4bacc6" stroke-width="2.8" />
<line x1="337.67999999999995" y1="386" x2="337.67999999999995" y2="397" stroke="#4bacc6" stroke-width="3.1" />
<line x1="330.87999999999994" y1="386" x2="344.47999999999996" y2="386" stroke="#4bacc6" stroke-width="2.8" />
<line x1="330.87999999999994" y1="397" x2="344.47999999999996" y2="397" stroke="#4bacc6" stroke-width="2.8" />
<line x1="380.79999999999995" y1="401.5" x2="380.79999999999995" y2="410" stroke="#4bacc6" stroke-width="3.1" />
<line x1="373.99999999999994" y1="401.5" x2="387.59999999999997" y2="401.5" stroke="#4bacc6" stroke-width="2.8" />
<line x1="373.99999999999994" y1="410" x2="387.59999999999997" y2="410" stroke="#4bacc6" stroke-width="2.8" />
<line x1="423.91999999999996" y1="401" x2="423.91999999999996" y2="414.7" stroke="#4bacc6" stroke-width="3.1" />
<line x1="417.11999999999995" y1="401" x2="430.71999999999997" y2="401" stroke="#4bacc6" stroke-width="2.8" />
<line x1="417.11999999999995" y1="414.7" x2="430.71999999999997" y2="414.7" stroke="#4bacc6" stroke-width="2.8" />
<line x1="467.03999999999996" y1="386" x2="467.03999999999996" y2="401.7" stroke="#4bacc6" stroke-width="3.1" />
<line x1="460.23999999999995" y1="386" x2="473.84" y2="386" stroke="#4bacc6" stroke-width="2.8" />
<line x1="460.23999999999995" y1="401.7" x2="473.84" y2="401.7" stroke="#4bacc6" stroke-width="2.8" />
<circle cx="165.2" cy="204.8" r="7.5" fill="#4bacc6"/>
<circle cx="208.32" cy="349.8" r="7.5" fill="#4bacc6"/>
<circle cx="251.44" cy="359.2" r="7.5" fill="#4bacc6"/>
<circle cx="294.55999999999995" cy="368.6" r="7.5" fill="#4bacc6"/>
<circle cx="337.67999999999995" cy="390" r="7.5" fill="#4bacc6"/>
<circle cx="380.79999999999995" cy="405.7" r="7.5" fill="#4bacc6"/>
<circle cx="423.91999999999996" cy="405.8" r="7.5" fill="#4bacc6"/>
<circle cx="467.03999999999996" cy="393.5" r="7.5" fill="#4bacc6"/>
<line x1="165.2" y1="138.7" x2="165.2" y2="247.2" stroke="#f79646" stroke-width="3.1" />
<line x1="158.39999999999998" y1="138.7" x2="172.0" y2="138.7" stroke="#f79646" stroke-width="2.8" />
<line x1="158.39999999999998" y1="247.2" x2="172.0" y2="247.2" stroke="#f79646" stroke-width="2.8" />
<line x1="208.32" y1="159" x2="208.32" y2="360.3" stroke="#f79646" stroke-width="3.1" />
<line x1="201.51999999999998" y1="159" x2="215.12" y2="159" stroke="#f79646" stroke-width="2.8" />
<line x1="201.51999999999998" y1="360.3" x2="215.12" y2="360.3" stroke="#f79646" stroke-width="2.8" />
<line x1="251.44" y1="201.7" x2="251.44" y2="313.6" stroke="#f79646" stroke-width="3.1" />
<line x1="244.64" y1="201.7" x2="258.24" y2="201.7" stroke="#f79646" stroke-width="2.8" />
<line x1="244.64" y1="313.6" x2="258.24" y2="313.6" stroke="#f79646" stroke-width="2.8" />
<line x1="294.55999999999995" y1="205.7" x2="294.55999999999995" y2="382.2" stroke="#f79646" stroke-width="3.1" />
<line x1="287.75999999999993" y1="205.7" x2="301.35999999999996" y2="205.7" stroke="#f79646" stroke-width="2.8" />
<line x1="287.75999999999993" y1="382.2" x2="301.35999999999996" y2="382.2" stroke="#f79646" stroke-width="2.8" />
<line x1="337.67999999999995" y1="264.6" x2="337.67999999999995" y2="399.9" stroke="#f79646" stroke-width="3.1" />
<line x1="330.87999999999994" y1="264.6" x2="344.47999999999996" y2="264.6" stroke="#f79646" stroke-width="2.8" />
<line x1="330.87999999999994" y1="399.9" x2="344.47999999999996" y2="399.9" stroke="#f79646" stroke-width="2.8" />
<line x1="380.79999999999995" y1="295.3" x2="380.79999999999995" y2="401.7" stroke="#f79646" stroke-width="3.1" />
<line x1="373.99999999999994" y1="295.3" x2="387.59999999999997" y2="295.3" stroke="#f79646" stroke-width="2.8" />
<line x1="373.99999999999994" y1="401.7" x2="387.59999999999997" y2="401.7" stroke="#f79646" stroke-width="2.8" />
<line x1="423.91999999999996" y1="309.3" x2="423.91999999999996" y2="339" stroke="#f79646" stroke-width="3.1" />
<line x1="417.11999999999995" y1="309.3" x2="430.71999999999997" y2="309.3" stroke="#f79646" stroke-width="2.8" />
<line x1="417.11999999999995" y1="339" x2="430.71999999999997" y2="339" stroke="#f79646" stroke-width="2.8" />
<line x1="467.03999999999996" y1="258" x2="467.03999999999996" y2="331" stroke="#f79646" stroke-width="3.1" />
<line x1="460.23999999999995" y1="258" x2="473.84" y2="258" stroke="#f79646" stroke-width="2.8" />
<line x1="460.23999999999995" y1="331" x2="473.84" y2="331" stroke="#f79646" stroke-width="2.8" />
<circle cx="165.2" cy="192.1" r="7.5" fill="#f79646"/>
<circle cx="208.32" cy="260.2" r="7.5" fill="#f79646"/>
<circle cx="251.44" cy="257.3" r="7.5" fill="#f79646"/>
<circle cx="294.55999999999995" cy="294.3" r="7.5" fill="#f79646"/>
<circle cx="337.67999999999995" cy="331.2" r="7.5" fill="#f79646"/>
<circle cx="380.79999999999995" cy="346.7" r="7.5" fill="#f79646"/>
<circle cx="423.91999999999996" cy="322" r="7.5" fill="#f79646"/>
<circle cx="467.03999999999996" cy="294.5" r="7.5" fill="#f79646"/>
<line x1="142.5" y1="125.5" x2="142.5" y2="432.5" stroke="#000" stroke-width="3.0" />
<line x1="489.3" y1="125.5" x2="489.3" y2="432.5" stroke="#000" stroke-width="3.0" />
<line x1="134.2" y1="431" x2="497.6" y2="431" stroke="#000" stroke-width="3.0" />
<line x1="134.2" y1="127" x2="142.5" y2="127" stroke="#000" stroke-width="2.7" />
<text x="120.2" y="135.3" font-size="27.7" text-anchor="end" >2E+04</text>
<line x1="134.2" y1="279" x2="142.5" y2="279" stroke="#000" stroke-width="2.7" />
<text x="120.2" y="287.3" font-size="27.7" text-anchor="end" >1E+04</text>
<text x="120.2" y="439.3" font-size="27.7" text-anchor="end" >0E+00</text>
<line x1="489.3" y1="127" x2="497.6" y2="127" stroke="#000" stroke-width="2.7" />
<text x="512" y="135.0" font-size="27.7" text-anchor="start" >9E+04</text>
<line x1="489.3" y1="228.3" x2="497.6" y2="228.3" stroke="#000" stroke-width="2.7" />
<text x="512" y="236.3" font-size="27.7" text-anchor="start" >6E+04</text>
<line x1="489.3" y1="329.7" x2="497.6" y2="329.7" stroke="#000" stroke-width="2.7" />
<text x="512" y="337.7" font-size="27.7" text-anchor="start" >3E+04</text>
<text x="512" y="439.0" font-size="27.7" text-anchor="start" >0E+00</text>
<text x="164.3" y="476.6" font-size="30" text-anchor="middle" >0</text>
<text x="210" y="476.6" font-size="30" text-anchor="middle" >1</text>
<text x="250.6" y="476.6" font-size="30" text-anchor="middle" >5</text>
<text x="294.4" y="476.6" font-size="30" text-anchor="middle" >10</text>
<text x="336.7" y="476.6" font-size="30" text-anchor="middle" >20</text>
<text x="379.9" y="476.6" font-size="30" text-anchor="middle" >30</text>
<text x="423.3" y="476.6" font-size="30" text-anchor="middle" >40</text>
<text x="466.9" y="476.6" font-size="30" text-anchor="middle" >50</text>
<text x="326" y="528" font-size="30" text-anchor="middle" >Hemolyzed whole blood (%)</text>
<text transform="translate(24.3,280.5) rotate(-90)" font-size="29.7" text-anchor="middle">Peak area</text>
<text x="666.4" y="30" font-size="37.2" text-anchor="start" >B)</text>
<circle cx="923.3" cy="94.1" r="7.7" fill="#4bacc6"/>
<text x="934.5" y="102.4" font-size="28.3" text-anchor="start" >Aß42</text>
<circle cx="1065.4" cy="94.1" r="7.7" fill="#f79646"/>
<text x="1077.5" y="102.4" font-size="28.3" text-anchor="start" >Aß40</text>
<circle cx="853.5" cy="272.6" r="7.75" fill="#4bacc6"/>
<circle cx="899.6" cy="268.8" r="7.75" fill="#4bacc6"/>
<circle cx="946" cy="266.2" r="7.75" fill="#4bacc6"/>
<circle cx="992.2" cy="247.7" r="7.75" fill="#4bacc6"/>
<circle cx="1038.6" cy="235.2" r="7.75" fill="#4bacc6"/>
<circle cx="1084.9" cy="235.2" r="7.75" fill="#4bacc6"/>
<circle cx="1134.4" cy="220.1" r="7.75" fill="#4bacc6"/>
<circle cx="1180.7" cy="189.1" r="7.75" fill="#4bacc6"/>
<circle cx="853.5" cy="272.6" r="7.75" fill="#f79646"/>
<circle cx="899.6" cy="275.7" r="7.75" fill="#f79646"/>
<circle cx="946" cy="266.2" r="7.75" fill="#f79646"/>
<circle cx="992.2" cy="272.6" r="7.75" fill="#f79646"/>
<circle cx="1038.6" cy="281.8" r="7.75" fill="#f79646"/>
<circle cx="1084.9" cy="241.3" r="7.75" fill="#f79646"/>
<circle cx="1134.4" cy="263.4" r="7.75" fill="#f79646"/>
<circle cx="1180.7" cy="254" r="7.75" fill="#f79646"/>
<line x1="829.1" y1="241.7" x2="1201.7" y2="241.7" stroke="#787878" stroke-width="3.2" stroke-dasharray="9.2 3.2"/>
<line x1="829.1" y1="304.3" x2="1201.7" y2="304.3" stroke="#787878" stroke-width="3.2" stroke-dasharray="9.2 3.2"/>
<line x1="818.2" y1="116.5" x2="827.6" y2="116.5" stroke="#000" stroke-width="2.6" />
<text x="803.2" y="125.8" font-size="30.5" text-anchor="end" >200</text>
<line x1="818.2" y1="178.9" x2="827.6" y2="178.9" stroke="#000" stroke-width="2.6" />
<text x="803.2" y="188.20000000000002" font-size="30.5" text-anchor="end" >160</text>
<line x1="818.2" y1="241" x2="827.6" y2="241" stroke="#000" stroke-width="2.6" />
<text x="803.2" y="250.3" font-size="30.5" text-anchor="end" >120</text>
<line x1="818.2" y1="303.2" x2="827.6" y2="303.2" stroke="#000" stroke-width="2.6" />
<text x="801.4" y="312.5" font-size="30.5" text-anchor="end" >80</text>
<line x1="818.2" y1="367.2" x2="827.6" y2="367.2" stroke="#000" stroke-width="2.6" />
<text x="801.4" y="376.5" font-size="30.5" text-anchor="end" >40</text>
<text x="801.4" y="437.90000000000003" font-size="30.5" text-anchor="end" >0</text>
<line x1="827.6" y1="115.1" x2="827.6" y2="430.05" stroke="#000" stroke-width="2.9" />
<line x1="818.2" y1="428.6" x2="1202.5" y2="428.6" stroke="#000" stroke-width="2.9" />
<text x="850.7" y="473.5" font-size="30" text-anchor="middle" >0</text>
<text x="898.9" y="473.5" font-size="30" text-anchor="middle" >1</text>
<text x="944.6" y="473.5" font-size="30" text-anchor="middle" >5</text>
<text x="992" y="473.5" font-size="30" text-anchor="middle" >10</text>
<text x="1038" y="473.5" font-size="30" text-anchor="middle" >20</text>
<text x="1084.5" y="473.5" font-size="30" text-anchor="middle" >30</text>
<text x="1131.8" y="473.5" font-size="30" text-anchor="middle" >40</text>
<text x="1178.9" y="473.5" font-size="30" text-anchor="middle" >50</text>
<text x="1025.8" y="524.2" font-size="30" text-anchor="middle" >Hemolyzed whole blood (%)</text>
<text transform="translate(734.7,272.6) rotate(-90)" font-size="30.4" text-anchor="middle">Recovery (%)</text>
<text x="812.2" y="599.8" font-size="30.4" text-anchor="end" >CSF+WB</text>
<text x="812.2" y="686.3" font-size="30" text-anchor="end" >Centrifuged</text>
<text x="1268.2" y="30" font-size="37.2" text-anchor="start" >C)</text>
<circle cx="1476" cy="91" r="7.7" fill="#4bacc6"/>
<text x="1489.3" y="98.6" font-size="28.3" text-anchor="start" >Aß42</text>
<circle cx="1593" cy="91" r="7.7" fill="#f79646"/>
<text x="1605" y="98.6" font-size="28.3" text-anchor="start" >Aß40</text>
<circle cx="1468.8" cy="255.5" r="7.75" fill="#4bacc6"/>
<circle cx="1549" cy="298.3" r="7.75" fill="#4bacc6"/>
<circle cx="1629.3" cy="248.7" r="7.75" fill="#4bacc6"/>
<circle cx="1712.7" cy="273.4" r="7.75" fill="#4bacc6"/>
<circle cx="1468.8" cy="258.3" r="7.75" fill="#f79646"/>
<circle cx="1549" cy="282.6" r="7.75" fill="#f79646"/>
<circle cx="1629.3" cy="282.8" r="7.75" fill="#f79646"/>
<circle cx="1712.7" cy="283" r="7.75" fill="#f79646"/>
<line x1="1391.1" y1="247.9" x2="1717.2" y2="247.9" stroke="#787878" stroke-width="3.2" stroke-dasharray="9.2 3.2" stroke-dashoffset="1.7"/>
<line x1="1391.1" y1="309" x2="1715.8" y2="309" stroke="#787878" stroke-width="3.2" stroke-dasharray="9.2 3.2" stroke-dashoffset="3.8"/>
<line x1="1380.3999999999999" y1="125.2" x2="1389.6" y2="125.2" stroke="#000" stroke-width="2.6" />
<text x="1365.0" y="134.8" font-size="30" text-anchor="end" >200</text>
<line x1="1380.3999999999999" y1="185.2" x2="1389.6" y2="185.2" stroke="#000" stroke-width="2.6" />
<text x="1365.0" y="195.75" font-size="30" text-anchor="end" >160</text>
<line x1="1380.3999999999999" y1="247" x2="1389.6" y2="247" stroke="#000" stroke-width="2.6" />
<text x="1365.0" y="256.70000000000005" font-size="30" text-anchor="end" >120</text>
<line x1="1380.3999999999999" y1="309.1" x2="1389.6" y2="309.1" stroke="#000" stroke-width="2.6" />
<text x="1362.4" y="317.65000000000003" font-size="30" text-anchor="end" >80</text>
<line x1="1380.3999999999999" y1="370.5" x2="1389.6" y2="370.5" stroke="#000" stroke-width="2.6" />
<text x="1362.4" y="378.6" font-size="30" text-anchor="end" >40</text>
<text x="1362.4" y="439.55" font-size="30" text-anchor="end" >0</text>
<line x1="1389.6" y1="123.8" x2="1389.6" y2="432.25" stroke="#000" stroke-width="2.9" />
<line x1="1380.3999999999999" y1="430.8" x2="1711.6" y2="430.8" stroke="#000" stroke-width="2.9" />
<text transform="translate(1298,277.2) rotate(-90)" font-size="30.1" text-anchor="middle">Recovery (%)</text>
<text x="1394.3" y="474.2" font-size="27.3" text-anchor="middle" >Control</text>
<text x="1477.4" y="474.2" font-size="27.3" text-anchor="middle" >H1</text>
<text x="1550" y="474.2" font-size="27.3" text-anchor="middle" >H2</text>
<text x="1622.2" y="474.2" font-size="27.3" text-anchor="middle" >H3</text>
<text x="1694.4" y="474.2" font-size="27.3" text-anchor="middle" >H4</text>
<g id="nofoot"><rect x="39.87" y="283.23" width="6.34" height="7.07" fill="#fff"/><rect x="48.89" y="283.23" width="5.92" height="7.07" fill="#fff"/><rect x="202.34" y="472.36" width="6.74" height="7.24" fill="#fff"/><rect x="211.97" y="472.36" width="6.31" height="7.24" fill="#fff"/><rect x="278.40" y="472.36" width="6.74" height="7.24" fill="#fff"/><rect x="288.03" y="472.36" width="6.30" height="7.24" fill="#fff"/><rect x="753.03" y="183.92" width="6.83" height="7.28" fill="#fff"/><rect x="762.79" y="183.92" width="6.39" height="7.28" fill="#fff"/><rect x="753.03" y="246.02" width="6.83" height="7.28" fill="#fff"/><rect x="762.79" y="246.02" width="6.39" height="7.28" fill="#fff"/><rect x="891.24" y="469.26" width="6.74" height="7.24" fill="#fff"/><rect x="900.87" y="469.26" width="6.31" height="7.24" fill="#fff"/><rect x="976.00" y="469.26" width="6.74" height="7.24" fill="#fff"/><rect x="985.63" y="469.26" width="6.31" height="7.24" fill="#fff"/><rect x="1315.62" y="191.51" width="6.74" height="7.24" fill="#fff"/><rect x="1325.25" y="191.51" width="6.31" height="7.24" fill="#fff"/><rect x="1315.62" y="252.46" width="6.74" height="7.24" fill="#fff"/><rect x="1325.25" y="252.46" width="6.31" height="7.24" fill="#fff"/><rect x="1480.13" y="470.16" width="6.27" height="7.04" fill="#fff"/><rect x="1489.05" y="470.16" width="5.85" height="7.04" fill="#fff"/></g>
</svg>
</body></html>
